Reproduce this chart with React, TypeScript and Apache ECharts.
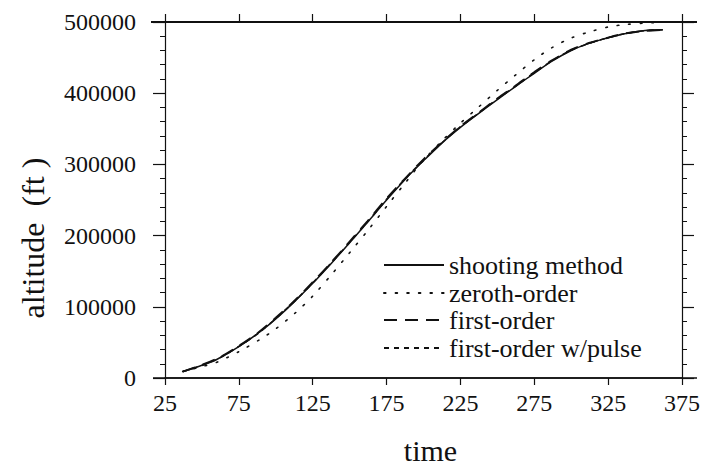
import React, { useEffect, useRef } from "react";
import * as echarts from "echarts";

// ---- data ----
const shootingTime = [37, 50, 60, 75, 90, 100, 113, 125, 138, 150, 163, 175, 188, 200, 213, 225, 237, 250, 262, 275, 287, 300, 312, 325, 337, 350, 362];
const shootingAlt = [9000, 18000, 26000, 44000, 66000, 83000, 108000, 133000, 162000, 190000, 221000, 250000, 280000, 305000, 331000, 352000, 371000, 391000, 409000, 428000, 445000, 460000, 470000, 478000, 484000, 488000, 489000];

const zerothTime = [37, 50, 60, 75, 90, 100, 113, 125, 138, 150, 163, 175, 188, 200, 213, 225, 237, 250, 262, 275, 287, 300, 312, 325, 337, 350, 362];
const zerothAlt = [9000, 16000, 22000, 37000, 55000, 69000, 91000, 115000, 146000, 176000, 209000, 241000, 275000, 306000, 334000, 358000, 380000, 404000, 425000, 447000, 464000, 477500, 486000, 493000, 496500, 498500, 499500];

const firstTime = [37, 50, 62, 75, 88, 100, 112, 125, 137, 150, 162, 175, 187, 200, 212, 225, 237, 250, 262, 275, 287, 300, 312, 325, 337, 350, 362];
const firstAlt = [9000, 18500, 29000, 45000, 63500, 84500, 107000, 134500, 161000, 191500, 220000, 252000, 279000, 307000, 330000, 353500, 372000, 392500, 410000, 429500, 446000, 461000, 470500, 478000, 484000, 487500, 489000];

const pulseTime = [37, 50, 62, 75, 88, 100, 112, 125, 137, 150, 162, 175, 187, 200, 212, 225, 237, 250, 262, 275, 287, 300, 312, 325, 337, 350, 362];
const pulseAlt = [9000, 17500, 28000, 44500, 62500, 83500, 106500, 133500, 160500, 190500, 219000, 251000, 278500, 306000, 329500, 353000, 371500, 392000, 409500, 429000, 445500, 460500, 470000, 478000, 484000, 487800, 489200];

const seriesNames = ["shooting method", "zeroth-order", "first-order", "first-order w/pulse"];
const xMin = 25;
const xMax = 375;
const xStep = 50;
const yMin = 0;
const yMax = 500000;
const yStep = 100000;

const FONT = "'Liberation Serif', 'Times New Roman', serif";
const INK = "#111";

function pairs(t: number[], a: number[]) {
  return t.map((v, i) => [v, a[i]]);
}

export default function App() {
  const ref = useRef<HTMLDivElement>(null);

  useEffect(() => {
    const chart = echarts.init(ref.current!, null, { renderer: "svg" });

    const xBase = {
      type: "value",
      min: xMin,
      max: xMax,
      interval: xStep,
      splitLine: { show: false },
      axisLine: { show: true, onZero: false, lineStyle: { color: INK, width: 1.5 } },
    };
    const yBase = {
      type: "value",
      min: yMin,
      max: yMax,
      interval: yStep,
      splitLine: { show: false },
      axisLine: { show: true, onZero: false, lineStyle: { color: INK, width: 1.2 } },
      axisTick: { show: true, length: 12, lineStyle: { color: INK, width: 1.2 } },
      minorTick: { show: true, splitNumber: 5, length: 5, lineStyle: { color: INK, width: 1 } },
    };

    const rowCenters = [265, 293, 320, 348];
    const legends = seriesNames.map((name, i) => ({
      data: [name],
      left: 383,
      top: rowCenters[i] - 14,
      padding: 0,
      itemWidth: 60,
      itemHeight: 14,
      selectedMode: false,
      itemStyle: { opacity: 0 },
      textStyle: { fontFamily: FONT, fontSize: 26, color: INK, lineHeight: 28 },
    }));

    chart.setOption({
      animation: false,
      backgroundColor: "#fff",
      grid: { left: 165, right: 34, top: 22, bottom: 96 },
      legend: legends,
      xAxis: [
        {
          ...xBase,
          position: "bottom",
          name: "time",
          nameLocation: "middle",
          nameGap: 57,
          nameTextStyle: { fontFamily: FONT, fontSize: 30, color: INK, padding: [0, 0, 0, 14] },
          axisTick: { show: true, length: 7, lineStyle: { color: INK, width: 1.2 } },
          axisLabel: { fontFamily: FONT, fontSize: 24, color: INK, margin: 13 },
        },
        {
          ...xBase,
          position: "top",
          axisTick: { show: true, length: 8, lineStyle: { color: INK, width: 1.2 } },
          axisLabel: { show: false },
        },
      ],
      yAxis: [
        {
          ...yBase,
          position: "left",
          name: "altitude  (ft )",
          nameLocation: "middle",
          nameRotate: 90,
          nameGap: 116,
          nameTextStyle: { fontFamily: FONT, fontSize: 32, color: INK, padding: [0, 76, 0, 0] },
          axisLabel: {
            fontFamily: FONT,
            fontSize: 24,
            color: INK,
            margin: 29,
            formatter: (v: number) => String(v),
          },
        },
        {
          ...yBase,
          position: "right",
          axisLabel: { show: false },
        },
      ],
      series: [
        {
          name: seriesNames[0],
          type: "line",
          data: pairs(shootingTime, shootingAlt),
          symbol: "none",
          smooth: 0.3,
          lineStyle: { color: INK, width: 1.5, type: "solid" },
          itemStyle: { color: INK },
        },
        {
          name: seriesNames[1],
          type: "line",
          data: pairs(zerothTime, zerothAlt),
          symbol: "none",
          smooth: 0.3,
          lineStyle: { color: INK, width: 1.6, type: [1.6, 10], cap: "round" },
          itemStyle: { color: INK },
        },
        {
          name: seriesNames[2],
          type: "line",
          data: pairs(firstTime, firstAlt),
          symbol: "none",
          smooth: 0.3,
          lineStyle: { color: INK, width: 2, type: [13, 8] },
          itemStyle: { color: INK },
        },
        {
          name: seriesNames[3],
          type: "line",
          data: pairs(pulseTime, pulseAlt),
          symbol: "none",
          smooth: 0.3,
          lineStyle: { color: INK, width: 1.6, type: [5, 5] },
          itemStyle: { color: INK },
        },
      ],
    });

    // extend the top and bottom frame lines past the plot box, as in the reference
    const [xl, yb] = chart.convertToPixel({ gridIndex: 0 }, [xMin, yMin]) as number[];
    const [xr, yt] = chart.convertToPixel({ gridIndex: 0 }, [xMax, yMax]) as number[];
    chart.setOption({
      graphic: [
        { type: "line", shape: { x1: xl - 14, y1: yt, x2: xr + 15, y2: yt }, style: { stroke: INK, lineWidth: 2 } },
        { type: "line", shape: { x1: xl - 12, y1: yb, x2: xr + 15, y2: yb }, style: { stroke: INK, lineWidth: 1.5 } },
      ],
    });

    return () => chart.dispose();
  }, []);

  return (
    <div
      ref={ref}
      style={{ position: "fixed", left: 0, top: 0, width: 716, height: 474, background: "#fff" }}
    />
  );
}
